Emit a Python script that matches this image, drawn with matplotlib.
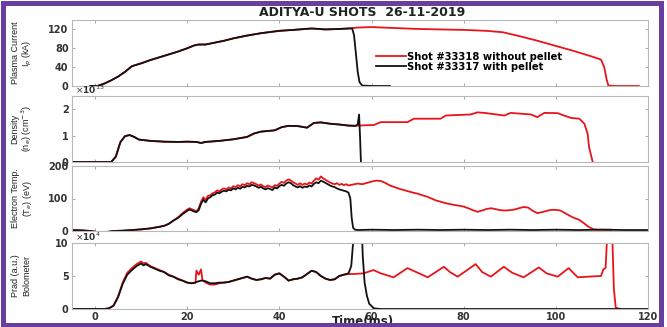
import matplotlib
matplotlib.use("Agg")
import matplotlib.pyplot as plt
from matplotlib.patches import Rectangle

# ---------------- data ----------------
# Plasma current (kA)
ip_t_common = [-1, 0.5, 2, 3.5, 5, 6.5, 8, 10, 12, 14, 16, 18, 20, 21.5, 22.5, 24, 26, 28, 30, 33, 36, 40, 43, 47, 50, 53, 55]
ip_common = [0, 0, 5, 12, 20, 30, 42, 48, 55, 61, 67, 73, 80, 86, 88, 88, 92, 96, 101, 107, 112, 117, 119, 122, 120, 121, 122]
ip_t_red_tail = [57, 60, 65, 70, 75, 80, 85, 88.5, 92, 96, 100, 104, 108, 109.8, 110.5, 111, 111.4, 113, 118]
ip_red_tail = [124, 125, 123, 121, 120, 119, 117, 114, 106, 96, 85, 74, 62, 56, 40, 15, 1, 0, 0]
ip_t_black_tail = [55.8, 56.2, 56.6, 57, 57.4, 58, 60, 64]
ip_black_tail = [122, 108, 70, 30, 8, 1, 0, 0]

# Density (x 1e13 cm^-3)
ne_t_common = [-5, 3.5, 4.5, 5.5, 6.5, 7.5, 8.5, 9.5, 12, 15, 18, 20, 22, 23, 24, 27, 30, 33, 34.5, 36, 39, 40.5, 42, 44, 46, 47.5, 49, 51, 53, 55, 56.5]
ne_common = [0, 0, 0.2, 0.75, 0.98, 1.02, 0.95, 0.85, 0.8, 0.77, 0.76, 0.77, 0.76, 0.72, 0.76, 0.8, 0.86, 0.95, 1.08, 1.15, 1.2, 1.32, 1.37, 1.36, 1.3, 1.48, 1.5, 1.45, 1.42, 1.38, 1.37]
ne_t_red_tail = [58.3, 60.5, 62, 67.8, 69.2, 75, 76.1, 81.5, 83, 84.5, 88.8, 90.2, 94.6, 96, 97.5, 100.4, 101.8, 103.3, 105.1, 106.2, 106.9, 107.2, 108]
ne_red_tail = [1.39, 1.4, 1.51, 1.51, 1.64, 1.64, 1.76, 1.8, 1.88, 1.86, 1.76, 1.86, 1.8, 1.7, 1.86, 1.85, 1.76, 1.67, 1.64, 1.45, 1.07, 0.57, 0.0]
ne_t_black_tail = [57.0, 57.3, 57.5, 57.7]
ne_black_tail = [1.42, 1.8, 1.0, 0.0]

# Electron temperature (eV)
te_t_common = [-5, -3, -1, 0, 1, 2, 3, 4, 6, 8, 10, 12, 14, 15, 16, 17]
te_common = [3, 2, 0, -2, -5, -4, -2, 0, 1, 3, 5, 8, 13, 16, 22, 32]
te_t_mid = [18, 19, 20, 20.5, 21, 21.5, 22, 22.5, 23, 23.5, 24, 24.5, 25, 25.5, 26, 26.5, 27, 27.5, 28, 28.5,
            29, 29.5, 30, 30.5, 31, 31.5, 32, 32.5, 33, 33.5, 34, 34.5, 35, 35.5, 36, 36.5, 37, 37.5, 38, 38.5,
            39, 39.5, 40, 40.5, 41, 41.5, 42, 42.5, 43, 43.5, 44, 44.5, 45, 45.5, 46, 46.5, 47, 47.5, 48, 48.5,
            49, 49.5, 50, 50.5, 51, 51.5, 52, 52.5, 53, 53.5, 54, 54.5, 55]
te_black_mid = [40, 52, 62, 66, 63, 60, 58, 64, 84, 96, 88, 100, 104, 110, 112, 118, 116, 121, 124, 122,
                127, 125, 131, 128, 133, 130, 136, 134, 139, 137, 142, 140, 137, 133, 136, 131, 128, 132, 129, 126,
                134, 131, 138, 142, 139, 146, 150, 147, 141, 137, 134, 138, 133, 137, 135, 140, 137, 145, 150, 147,
                155, 152, 148, 144, 140, 137, 135, 131, 128, 126, 124, 122, 118]
te_red_mid = [42, 55, 66, 70, 67, 64, 60, 70, 90, 104, 95, 108, 110, 116, 119, 125, 122, 128, 131, 128,
              134, 131, 138, 135, 141, 137, 144, 141, 147, 144, 150, 147, 144, 140, 143, 138, 135, 140, 137, 134,
              141, 139, 146, 151, 148, 155, 159, 155, 150, 146, 142, 147, 142, 146, 143, 149, 146, 155, 162, 158,
              168, 162, 158, 153, 149, 146, 144, 147, 142, 145, 141, 144, 140]
te_t_red_tail = [56, 57, 58, 59, 60, 61, 62, 63, 64, 65, 66, 67, 68, 69, 70, 71, 72, 73, 74, 75, 76, 77, 78, 79,
                 80, 81, 82, 83, 84, 85, 86, 87, 88, 89, 90, 91, 92, 93, 94, 95, 96, 97, 98, 99, 100, 101, 102,
                 103, 104, 105, 106, 107, 108, 109, 112]
te_red_tail = [143, 146, 144, 148, 152, 155, 154, 148, 140, 135, 130, 126, 122, 118, 115, 110, 106, 100, 94, 90,
               86, 83, 80, 78, 75, 70, 64, 59, 63, 68, 70, 67, 64, 63, 64, 66, 70, 74, 72, 62,
               55, 58, 62, 65, 65, 63, 55, 47, 40, 35, 25, 14, 6, 4, 4]
te_t_black_tail = [55.4, 55.7, 56, 56.4, 57, 60, 65, 70, 75, 80, 85, 90, 95, 100, 105, 110, 115, 120]
te_black_tail = [100, 40, 10, 4, 3, 4, 3, 4, 3, 4, 3, 4, 3, 4, 3, 4, 3, 3]

# Radiated power, bolometer (x 1e4 a.u.)
pr_t_start = [-5, 2, 3, 4, 5, 6, 7, 8, 9, 10, 10.5, 11, 12, 13, 14, 15, 16, 17, 18, 19, 20, 21]
pr_black_start = [0, 0, 0.1, 0.5, 1.8, 3.8, 5.2, 5.9, 6.5, 6.9, 6.6, 6.8, 6.4, 6.1, 5.8, 5.6, 5.1, 4.9, 4.5, 4.3, 4.0, 3.9]
pr_red_start = [0, 0, 0.1, 0.5, 1.9, 4.0, 5.5, 6.2, 6.8, 7.2, 6.9, 7.0, 6.5, 6.2, 5.9, 5.6, 5.2, 4.9, 4.6, 4.3, 4.0, 3.9]
pr_t_spike = [21.8, 22, 22.5, 23, 23.3]
pr_black_spike = [4.0, 4.1, 4.2, 4.3, 4.3]
pr_red_spike = [4.0, 5.8, 5.2, 6.0, 4.4]
pr_t_mid = [24, 25, 26, 27, 28, 29, 30, 31, 32, 33, 34, 35, 36, 37, 38, 39, 40, 41, 42, 43, 44, 45, 46, 47, 48,
            49, 50, 51, 52, 53, 54, 55]
pr_black_mid = [4.2, 3.9, 3.9, 4.0, 4.0, 4.1, 4.3, 4.5, 4.7, 4.9, 4.6, 4.4, 4.5, 4.7, 4.6, 5.2, 5.4, 4.9, 4.3,
                4.5, 4.6, 4.8, 5.3, 5.8, 5.6, 5.0, 4.6, 4.4, 4.5, 5.0, 5.2, 5.4]
pr_red_mid = [4.0, 3.7, 3.7, 3.9, 4.0, 4.1, 4.3, 4.5, 4.7, 4.9, 4.6, 4.4, 4.5, 4.7, 4.6, 5.2, 5.4, 4.9, 4.3,
              4.5, 4.6, 4.8, 5.3, 5.8, 5.6, 5.0, 4.6, 4.4, 4.5, 5.0, 5.2, 5.3]
pr_t_black_tail = [55.6, 56, 56.3, 57.8, 58.1, 58.5, 59, 59.5, 60.5, 62, 120]
pr_black_tail = [6.5, 10, 14, 14, 8, 4, 2, 0.8, 0.1, 0, 0]
pr_t_red_tail = [56, 58.3, 60.4, 62, 64.8, 67.8, 70, 72.2, 75.7, 77, 78.7, 82.6, 84, 85.9, 88.7, 90.5, 93, 96.3,
                 98, 100.4, 102.8, 104, 104.8, 107, 109.8, 110.3, 110.8, 111.2, 112.2, 112.6, 113, 114]
pr_red_tail = [5.3, 5.4, 5.9, 5.4, 4.8, 6.2, 5.5, 4.8, 6.4, 5.6, 4.9, 6.8, 5.6, 4.9, 6.4, 5.5, 4.8, 6.3,
               5.4, 4.9, 6.2, 5.3, 4.8, 4.9, 5.0, 6.0, 6.2, 12, 12, 3, 0.2, 0]

x_ticks = [0, 20, 40, 60, 80, 100, 120]
ylabels = [("Plasma Current", "I$_p$ (kA)"),
           ("Density", "(n$_e$) (cm$^{-3}$)"),
           ("Electron Temp.", "(T$_e$) (eV)"),
           ("Prad (a.u.)", "Bolometer")]
legend_labels = ["Shot #33318 without pellet", "Shot #33317 with pellet"]
title = "ADITYA-U SHOTS  26-11-2019"

# ---------------- figure ----------------
W, H = 667, 327
fig = plt.figure(figsize=(W / 100, H / 100), dpi=100)
fig.patch.set_facecolor("white")

RED = "#e8141c"
BLK = "#111111"
SPINE = "#b8b8b8"
LW = 1.3

panels = [(20, 86), (96, 162), (166, 231), (243, 309)]
axes = []
for top, bot in panels:
    ax = fig.add_axes([72 / W, 1 - bot / H, 576 / W, (bot - top) / H])
    ax.set_xlim(-5, 120)
    ax.set_xticks(x_ticks)
    ax.tick_params(direction="in", length=2, width=0.6, color="#999999", top=True, right=True,
                   labelsize=7, labelcolor="#333333", pad=2.5)
    for s in ax.spines.values():
        s.set_color(SPINE)
        s.set_linewidth(0.8)
    axes.append(ax)

ax1, ax2, ax3, ax4 = axes

# Panel 1: plasma current
l_red, = ax1.plot(ip_t_common + ip_t_red_tail, ip_common + ip_red_tail, color=RED, lw=LW)
l_blk, = ax1.plot(ip_t_common + ip_t_black_tail, ip_common + ip_black_tail, color=BLK, lw=LW)
ax1.set_ylim(0, 140)
ax1.set_yticks([0, 40, 80, 120])

# Panel 2: density
ax2.plot(ne_t_common + ne_t_red_tail, ne_common + ne_red_tail, color=RED, lw=LW)
ax2.plot(ne_t_common + ne_t_black_tail, ne_common + ne_black_tail, color=BLK, lw=LW)
ax2.set_ylim(0, 2.5)
ax2.set_yticks([0, 1, 2])

# Panel 3: electron temperature
ax3.plot(te_t_common + te_t_mid + te_t_red_tail, te_common + te_red_mid + te_red_tail, color=RED, lw=LW)
ax3.plot(te_t_common + te_t_mid + te_t_black_tail, te_common + te_black_mid + te_black_tail, color=BLK, lw=LW)
ax3.set_ylim(0, 200)
ax3.set_yticks([0, 100, 200])

# Panel 4: radiated power
ax4.plot(pr_t_start + pr_t_spike + pr_t_mid + pr_t_red_tail,
         pr_red_start + pr_red_spike + pr_red_mid + pr_red_tail, color=RED, lw=LW)
ax4.plot(pr_t_start + pr_t_spike + pr_t_mid + pr_t_black_tail,
         pr_black_start + pr_black_spike + pr_black_mid + pr_black_tail, color=BLK, lw=LW)
ax4.set_ylim(0, 10)
ax4.set_yticks([0, 5, 10])

for ax in axes[:3]:
    ax.tick_params(labelbottom=False)
for lab in ax4.get_xticklabels():
    lab.set_fontweight("bold")
for ax in axes:
    for lab in ax.get_yticklabels():
        lab.set_fontweight("bold")

# exponent labels
ax2.text(0.005, 1.0, r"$\times$10$^{13}$", transform=ax2.transAxes, fontsize=6.5, color="#333333",
         ha="left", va="bottom", fontweight="bold")
ax4.text(0.005, 1.0, r"$\times$10$^{4}$", transform=ax4.transAxes, fontsize=6.5, color="#333333",
         ha="left", va="bottom", fontweight="bold")

# y labels (two lines each)
for (top, bot), (l1, l2) in zip(panels, ylabels):
    yc = 1 - (top + bot) / 2 / H
    fig.text(15 / W, yc, l1, rotation=90, ha="center", va="center", fontsize=6.5,
             family="Liberation Sans", color="#222222")
    fig.text(27 / W, yc, l2, rotation=90, ha="center", va="center", fontsize=6.5,
             family="Liberation Sans", color="#222222")

# legend
ax1.legend([l_red, l_blk], legend_labels, loc="upper left", bbox_to_anchor=(0.528, 0.52),
           frameon=False, handlelength=3.0, handletextpad=0.1, labelspacing=0.0, borderpad=0,
           borderaxespad=0, prop={"size": 7.2, "weight": "bold"})

# title and x label
fig.text(362 / W, 1 - 13 / H, title, ha="center", va="center", fontsize=9, fontweight="bold", color="#222222")
fig.text(363 / W, 1 - 321 / H, "Time(ms)", ha="center", va="center", fontsize=8.5, fontweight="bold",
         color="#222222")

# purple frame
frame = Rectangle((2.5 / W, 2.5 / H), (661 - 2.5) / W, (H - 5) / H, transform=fig.transFigure,
                  fill=False, edgecolor="#6a3ea1", linewidth=5 * 72 / 100, zorder=100)
fig.add_artist(frame)

fig.savefig("out.png", dpi=100)
